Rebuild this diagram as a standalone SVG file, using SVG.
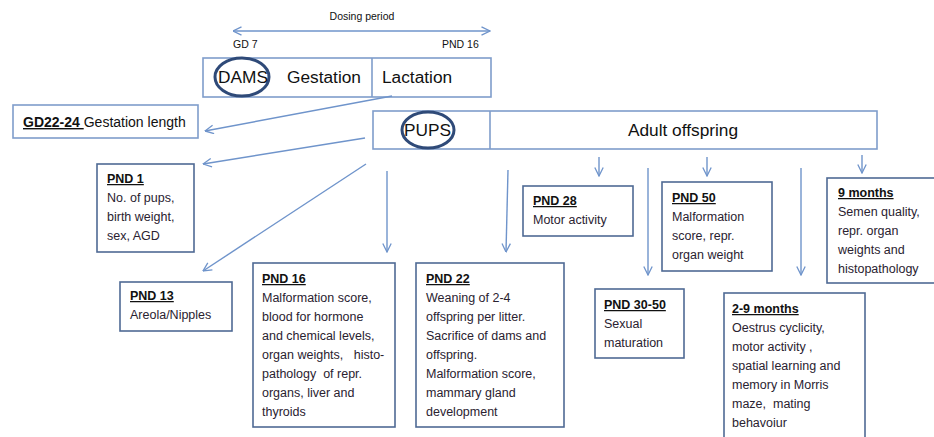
<svg xmlns="http://www.w3.org/2000/svg" width="934" height="437" viewBox="0 0 934 437">
<defs>
<style>
.bg{fill:#fff}
.top{fill:#fff;stroke:#7F9DCB;stroke-width:1.6}
.box{fill:#fff;stroke:#4F6A94;stroke-width:1.6}
.ell{fill:none;stroke:#2F4A78;stroke-width:3}
.con{fill:none;stroke:#6F94CB;stroke-width:1.4}
.big{font-family:"Liberation Sans",Arial,sans-serif;font-size:17.3px;fill:#111}
.t{font-family:"Liberation Sans",Arial,sans-serif;font-size:12.5px;fill:#2a2230}
.h{font-family:"Liberation Sans",Arial,sans-serif;font-size:12.5px;font-weight:bold;fill:#111;text-decoration:underline}
.s{font-family:"Liberation Sans",Arial,sans-serif;font-size:10.5px;fill:#111}
</style>
<marker id="ah" viewBox="0 0 10 10" refX="9.5" refY="5" markerWidth="10" markerHeight="10" markerUnits="userSpaceOnUse" orient="auto-start-reverse">
<path d="M1,0.8 L9.5,5 L1,9.2" fill="none" stroke="#6F94CB" stroke-width="1.3"/>
</marker>
</defs>
<rect class="bg" x="0" y="0" width="934" height="437"/>

<g id="dosing">
<text class="s" x="362" y="20" text-anchor="middle">Dosing period</text>
<line class="con" x1="233" y1="31" x2="490" y2="31" marker-start="url(#ah)" marker-end="url(#ah)"/>
<text class="s" x="233" y="48">GD 7</text>
<text class="s" x="442" y="48">PND 16</text>
</g>

<g id="dams">
<rect class="top" x="203" y="58" width="288" height="39"/>
<line class="top" x1="372" y1="58" x2="372" y2="97"/>
<ellipse class="ell" cx="242" cy="77" rx="27" ry="19"/>
<text class="big" x="218" y="83">DAMS</text>
<text class="big" x="287" y="83">Gestation</text>
<text class="big" x="382" y="83">Lactation</text>
</g>

<g id="pups">
<rect class="top" x="373" y="111" width="504" height="38"/>
<line class="top" x1="490" y1="111" x2="490" y2="149"/>
<ellipse class="ell" cx="428" cy="130" rx="26" ry="18"/>
<text class="big" x="404" y="136">PUPS</text>
<text class="big" x="683" y="136" text-anchor="middle">Adult offspring</text>
</g>

<g id="gd22">
<rect class="top" x="13" y="105" width="185" height="33"/>
<text x="23" y="127" style="font-family:'Liberation Sans',Arial,sans-serif;font-size:14px;fill:#111"><tspan font-weight="bold" text-decoration="underline">GD22-24 </tspan>Gestation length</text>
</g>

<g id="pnd1">
<rect class="box" x="97" y="164" width="97" height="88"/>
<text class="h" x="107" y="183">PND 1</text>
<text class="t" x="107" y="202">No. of pups,</text>
<text class="t" x="107" y="221">birth weight,</text>
<text class="t" x="107" y="240">sex, AGD</text>
</g>

<g id="pnd13">
<rect class="box" x="120" y="282" width="112" height="49"/>
<text class="h" x="130" y="300">PND 13</text>
<text class="t" x="130" y="319">Areola/Nipples</text>
</g>

<g id="pnd16">
<rect class="box" x="253" y="263" width="142" height="164"/>
<text class="h" x="262" y="283">PND 16</text>
<text class="t" x="262" y="302">Malformation score,</text>
<text class="t" x="262" y="321">blood for hormone</text>
<text class="t" x="262" y="340">and chemical levels,</text>
<text class="t" x="262" y="359" xml:space="preserve">organ weights,   histo-</text>
<text class="t" x="262" y="378" xml:space="preserve">pathology  of repr.</text>
<text class="t" x="262" y="397">organs, liver and</text>
<text class="t" x="262" y="416">thyroids</text>
</g>

<g id="pnd22">
<rect class="box" x="416" y="263" width="148" height="164"/>
<text class="h" x="426" y="283">PND 22</text>
<text class="t" x="426" y="302">Weaning of 2-4</text>
<text class="t" x="426" y="321">offspring per litter.</text>
<text class="t" x="426" y="340">Sacrifice of dams and</text>
<text class="t" x="426" y="359">offspring.</text>
<text class="t" x="426" y="378">Malformation score,</text>
<text class="t" x="426" y="397">mammary gland</text>
<text class="t" x="426" y="416">development</text>
</g>

<g id="pnd28">
<rect class="box" x="523" y="186" width="110" height="50"/>
<text class="h" x="533" y="205">PND 28</text>
<text class="t" x="533" y="224">Motor activity</text>
</g>

<g id="pnd50">
<rect class="box" x="662" y="182" width="110" height="89"/>
<text class="h" x="672" y="202">PND 50</text>
<text class="t" x="672" y="221">Malformation</text>
<text class="t" x="672" y="240">score, repr.</text>
<text class="t" x="672" y="259">organ weight</text>
</g>

<g id="pnd3050">
<rect class="box" x="595" y="289" width="89" height="69"/>
<text class="h" x="604" y="309">PND 30-50</text>
<text class="t" x="604" y="328">Sexual</text>
<text class="t" x="604" y="347">maturation</text>
</g>

<g id="m29">
<rect class="box" x="724" y="293" width="141" height="160"/>
<text class="h" x="732" y="313">2-9 months</text>
<text class="t" x="732" y="332">Oestrus cyclicity,</text>
<text class="t" x="732" y="351">motor activity ,</text>
<text class="t" x="732" y="370">spatial learning and</text>
<text class="t" x="732" y="389">memory in Morris</text>
<text class="t" x="732" y="408" xml:space="preserve">maze,  mating</text>
<text class="t" x="732" y="427">behavoiur</text>
</g>

<g id="m9">
<rect class="box" x="827" y="178" width="115" height="105"/>
<text class="h" x="838" y="197">9 months</text>
<text class="t" x="838" y="216">Semen quality,</text>
<text class="t" x="838" y="235">repr. organ</text>
<text class="t" x="838" y="254">weights and</text>
<text class="t" x="838" y="273">histopathology</text>
</g>

<g id="connectors">
<line class="con" x1="392" y1="96" x2="205" y2="131" marker-end="url(#ah)"/>
<line class="con" x1="365" y1="138" x2="203" y2="164" marker-end="url(#ah)"/>
<line class="con" x1="366" y1="164" x2="203" y2="271" marker-end="url(#ah)"/>
<line class="con" x1="387" y1="171" x2="387" y2="252" marker-end="url(#ah)"/>
<line class="con" x1="508" y1="170" x2="506" y2="252" marker-end="url(#ah)"/>
<line class="con" x1="599" y1="157" x2="599" y2="176" marker-end="url(#ah)"/>
<line class="con" x1="648" y1="168" x2="648" y2="275" marker-end="url(#ah)"/>
<line class="con" x1="707" y1="157" x2="707" y2="176" marker-end="url(#ah)"/>
<line class="con" x1="801" y1="168" x2="801" y2="275" marker-end="url(#ah)"/>
<line class="con" x1="862" y1="155" x2="862" y2="173" marker-end="url(#ah)"/>
</g>
</svg>
